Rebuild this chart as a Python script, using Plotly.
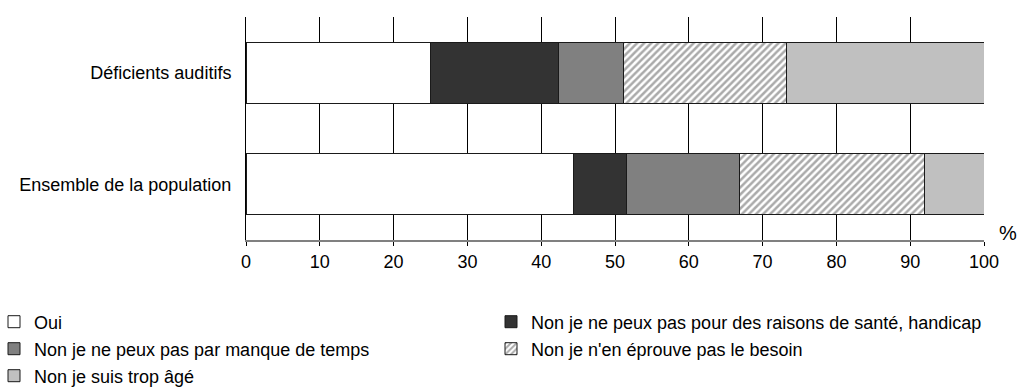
import plotly.graph_objects as go

categories = ["Déficients auditifs", "Ensemble de la population"]
series_names = [
    "Oui",
    "Non je ne peux pas pour des raisons de santé, handicap",
    "Non je ne peux pas par manque de temps",
    "Non je n'en éprouve pas le besoin",
    "Non je suis trop âgé",
]
oui = [25.0, 44.4]
sante = [17.3, 7.1]
temps = [8.8, 15.4]
besoin = [22.1, 25.0]
age = [26.8, 8.1]
x_ticks = [0, 10, 20, 30, 40, 50, 60, 70, 80, 90, 100]

values = [oui, sante, temps, besoin, age]
colors = ["#ffffff", "#333333", "#808080", "#ffffff", "#c0c0c0"]
legend_ids = ["legend", "legend2", "legend3", "legend4", "legend5"]

FONT = "Liberation Sans, Arial, sans-serif"
fig = go.Figure()
for i, (name, vals) in enumerate(zip(series_names, values)):
    marker = dict(color=colors[i], line=dict(color="#1a1a1a", width=1))
    if i == 3:
        marker["pattern"] = dict(shape="/", fgcolor="#555555", bgcolor="#ffffff",
                                 size=5, solidity=0.5)
    fig.add_trace(go.Bar(
        y=categories, x=vals, name=name, orientation="h",
        marker=marker, width=0.55, legend=legend_ids[i],
        hoverinfo="skip",
    ))

# plot area geometry (pixels) used to place legends in paper coordinates
W, H = 1019, 387
ML, MR, MT, MB = 246, 35, 17, 147
PW, PH = W - ML - MR, H - MT - MB
leg_pos = [(-6, 322), (491, 322), (-6, 349), (491, 349), (-6, 376)]
layout_legends = {}
for lid, (px, py) in zip(legend_ids, leg_pos):
    layout_legends[lid] = dict(
        xref="paper", yref="paper",
        x=(px - ML) / PW, y=(H - MB - py) / PH, xanchor="left", yanchor="middle",
        bgcolor="rgba(0,0,0,0)", borderwidth=0,
        font=dict(family=FONT, size=18, color="#000000"),
    )

fig.update_layout(
    width=W, height=H,
    margin=dict(l=ML, r=MR, t=MT, b=MB, autoexpand=False),
    paper_bgcolor="#ffffff", plot_bgcolor="#ffffff",
    barmode="stack",
    font=dict(family=FONT, size=18, color="#000000"),
    showlegend=True,
    **layout_legends,
)
fig.update_xaxes(
    range=[0, 100], tickvals=x_ticks, ticktext=[str(v) for v in x_ticks],
    showgrid=True, gridcolor="#000000", gridwidth=1,
    showline=True, linecolor="#808080", linewidth=2,
    ticks="outside", ticklen=4, tickcolor="#000000",
    zeroline=False, fixedrange=True,
    tickfont=dict(family=FONT, size=18),
)
fig.update_yaxes(
    categoryorder="array", categoryarray=categories,
    range=[1.5, -0.5],
    showgrid=False, showline=True, linecolor="#000000", linewidth=1,
    ticks="", zeroline=False, fixedrange=True,
    ticksuffix="  ",
    tickfont=dict(family=FONT, size=18),
)
fig.add_annotation(
    text="%", xref="paper", yref="paper", x=1.0325, y=0.03,
    xanchor="center", yanchor="middle",
    showarrow=False, font=dict(family=FONT, size=20, color="#000000"),
)
fig.write_html("out.html", config={"displayModeBar": False},
               post_script="document.body.style.margin='0px';")
